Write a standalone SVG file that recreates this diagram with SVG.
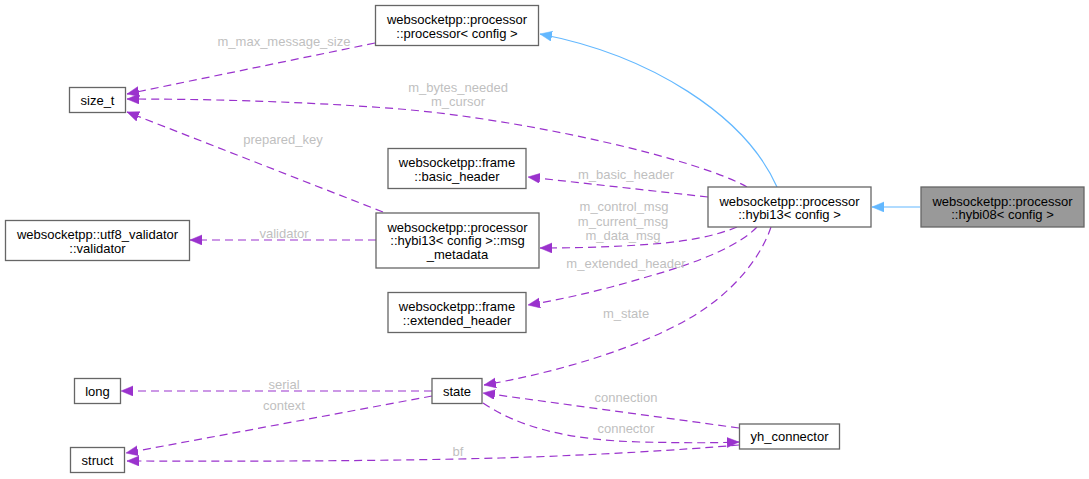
<svg xmlns="http://www.w3.org/2000/svg" width="1089" height="479" viewBox="0 0 1089 479">
<style>
text{font-family:"Liberation Sans",Arial,sans-serif;font-size:13px;text-anchor:middle}
.node rect{fill:#ffffff;stroke:#666666;stroke-width:1.3}
.node text{fill:#000000}
.base rect{fill:#999999}
.e{fill:none;stroke:#9a32cd;stroke-width:1.2;stroke-dasharray:8,5}
.i{fill:none;stroke:#63b8ff;stroke-width:1.2}
.lbl{fill:#bfbfbf}
</style>
<defs>
<marker id="ap" markerUnits="userSpaceOnUse" markerWidth="13" markerHeight="11" refX="12" refY="5" orient="auto">
<path d="M0,0 L12,5 L0,10 z" fill="#9a32cd" stroke="#9a32cd" stroke-width="0.5"/>
</marker>
<marker id="ab" markerUnits="userSpaceOnUse" markerWidth="13" markerHeight="11" refX="12" refY="5" orient="auto">
<path d="M0,0 L12,5 L0,10 z" fill="#63b8ff" stroke="#63b8ff" stroke-width="0.5"/>
</marker>
</defs>

<g id="edges">
<path class="i" d="M920,207 L872,207" marker-end="url(#ab)"/>
<path class="i" d="M777,187 C745,115 650,55 540,34" marker-end="url(#ab)"/>
<path class="e" d="M375,43 L127,94" marker-end="url(#ap)"/>
<path class="e" d="M747,187 C700,160 530,120 400,109 C300,101 200,99 127,99" marker-end="url(#ap)"/>
<path class="e" d="M383,212 L127,112" marker-end="url(#ap)"/>
<path class="e" d="M708,197 L528,177" marker-end="url(#ap)"/>
<path class="e" d="M737,227 C715,236 690,241 653,244 C615,247 575,248 540,248" marker-end="url(#ap)"/>
<path class="e" d="M376,240 L190,240" marker-end="url(#ap)"/>
<path class="e" d="M757,227 C740,245 700,262 650,276 C610,288 570,298 528,305" marker-end="url(#ap)"/>
<path class="e" d="M771,227 C760,260 730,295 690,318 C640,347 560,372 484,385" marker-end="url(#ap)"/>
<path class="e" d="M432,391 L121,391" marker-end="url(#ap)"/>
<path class="e" d="M432,396 L126,453" marker-end="url(#ap)"/>
<path class="e" d="M739,428 L483,393" marker-end="url(#ap)"/>
<path class="e" d="M483,403 C520,428 570,440 640,442 C690,443 715,443 739,442" marker-end="url(#ap)"/>
<path class="e" d="M739,445 C680,450 600,455 500,458 C350,462 200,461 127,461" marker-end="url(#ap)"/>

<text class="lbl" x="284" y="45.5">m_max_message_size</text>
<text class="lbl" x="458" y="91.5">m_bytes_needed</text>
<text class="lbl" x="458" y="105.5">m_cursor</text>
<text class="lbl" x="283" y="143.5">prepared_key</text>
<text class="lbl" x="626" y="178.5">m_basic_header</text>
<text class="lbl" x="624" y="210.5">m_control_msg</text>
<text class="lbl" x="623" y="225.5">m_current_msg</text>
<text class="lbl" x="623" y="240">m_data_msg</text>
<text class="lbl" x="284" y="237.5">validator</text>
<text class="lbl" x="626" y="267.5">m_extended_header</text>
<text class="lbl" x="626" y="317.5">m_state</text>
<text class="lbl" x="284" y="388.5">serial</text>
<text class="lbl" x="284" y="409.5">context</text>
<text class="lbl" x="626" y="401.5">connection</text>
<text class="lbl" x="626" y="432.5">connector</text>
<text class="lbl" x="458" y="455.5">bf</text>
</g>

<g id="hybi08" class="node base">
<rect x="921" y="187" width="163" height="40"/>
<text x="1002.5" y="205.5">websocketpp::processor</text>
<text x="1002.5" y="219">::hybi08&lt; config &gt;</text>
</g>
<g id="hybi13" class="node">
<rect x="708" y="187" width="163" height="40"/>
<text x="789.5" y="205.5">websocketpp::processor</text>
<text x="789.5" y="219">::hybi13&lt; config &gt;</text>
</g>
<g id="processor" class="node">
<rect x="375.5" y="5.5" width="163" height="40"/>
<text x="457" y="24">websocketpp::processor</text>
<text x="457" y="37.5">::processor&lt; config &gt;</text>
</g>
<g id="size_t" class="node">
<rect x="69.5" y="87.5" width="56" height="25"/>
<text x="97.5" y="104.5">size_t</text>
</g>
<g id="basic_header" class="node">
<rect x="388" y="148.5" width="138" height="40"/>
<text x="457" y="167">websocketpp::frame</text>
<text x="457" y="180.5">::basic_header</text>
</g>
<g id="msg_metadata" class="node">
<rect x="376" y="213" width="163" height="55"/>
<text x="457.5" y="231.5">websocketpp::processor</text>
<text x="457.5" y="245">::hybi13&lt; config &gt;::msg</text>
<text x="457.5" y="258.5">_metadata</text>
</g>
<g id="extended_header" class="node">
<rect x="388" y="292.5" width="138" height="40"/>
<text x="457" y="311">websocketpp::frame</text>
<text x="457" y="324.5">::extended_header</text>
</g>
<g id="validator" class="node">
<rect x="5.5" y="220.5" width="184" height="40"/>
<text x="97.5" y="239">websocketpp::utf8_validator</text>
<text x="97.5" y="252.5">::validator</text>
</g>
<g id="long" class="node">
<rect x="74.5" y="378.5" width="46" height="25"/>
<text x="97.5" y="395.5">long</text>
</g>
<g id="struct" class="node">
<rect x="70.5" y="447.5" width="54" height="25"/>
<text x="97.5" y="464.5">struct</text>
</g>
<g id="state" class="node">
<rect x="432" y="378.5" width="50" height="25"/>
<text x="457" y="395.5">state</text>
</g>
<g id="yh_connector" class="node">
<rect x="739.5" y="424" width="100" height="25"/>
<text x="789.5" y="441">yh_connector</text>
</g>
</svg>
